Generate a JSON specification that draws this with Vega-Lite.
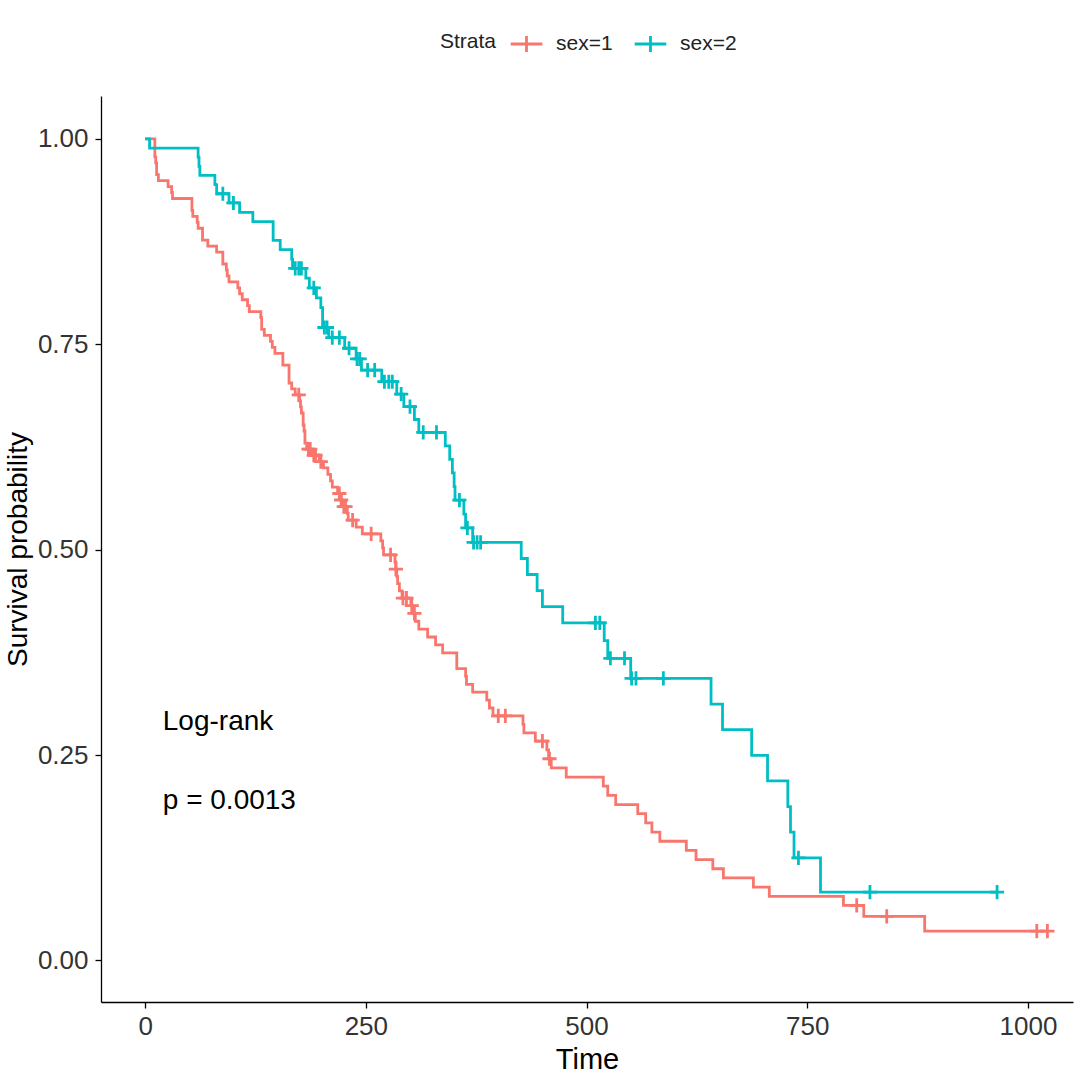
{
  "$schema": "https://vega.github.io/schema/vega-lite/v6.json",
  "autosize": {"type": "none"},
  "width": 972,
  "height": 906,
  "padding": {"left": 101, "top": 96, "right": 7, "bottom": 86},
  "background": "white",
  "config": {
    "view": {"stroke": null},
    "font": "Liberation Sans",
    "axis": {
      "grid": false,
      "domainColor": "black",
      "domainWidth": 1.3,
      "tickColor": "black",
      "tickWidth": 1.3,
      "tickSize": 6,
      "labelFont": "Liberation Sans",
      "labelFontSize": 26,
      "labelColor": "#333333",
      "titleFont": "Liberation Sans",
      "titleFontSize": 29,
      "titleFontWeight": "normal",
      "titleColor": "black"
    }
  },
  "datasets": {
    "curve": [
      {"strata": "sex=1", "time": 0, "surv": 1},
      {"strata": "sex=1", "time": 11, "surv": 0.9783},
      {"strata": "sex=1", "time": 12, "surv": 0.9710},
      {"strata": "sex=1", "time": 13, "surv": 0.9565},
      {"strata": "sex=1", "time": 15, "surv": 0.9493},
      {"strata": "sex=1", "time": 26, "surv": 0.9420},
      {"strata": "sex=1", "time": 30, "surv": 0.9348},
      {"strata": "sex=1", "time": 31, "surv": 0.9275},
      {"strata": "sex=1", "time": 53, "surv": 0.9130},
      {"strata": "sex=1", "time": 54, "surv": 0.9058},
      {"strata": "sex=1", "time": 59, "surv": 0.8986},
      {"strata": "sex=1", "time": 60, "surv": 0.8913},
      {"strata": "sex=1", "time": 65, "surv": 0.8768},
      {"strata": "sex=1", "time": 71, "surv": 0.8696},
      {"strata": "sex=1", "time": 81, "surv": 0.8623},
      {"strata": "sex=1", "time": 88, "surv": 0.8478},
      {"strata": "sex=1", "time": 92, "surv": 0.8406},
      {"strata": "sex=1", "time": 93, "surv": 0.8333},
      {"strata": "sex=1", "time": 95, "surv": 0.8261},
      {"strata": "sex=1", "time": 105, "surv": 0.8188},
      {"strata": "sex=1", "time": 107, "surv": 0.8116},
      {"strata": "sex=1", "time": 110, "surv": 0.8043},
      {"strata": "sex=1", "time": 116, "surv": 0.7971},
      {"strata": "sex=1", "time": 118, "surv": 0.7899},
      {"strata": "sex=1", "time": 131, "surv": 0.7826},
      {"strata": "sex=1", "time": 132, "surv": 0.7681},
      {"strata": "sex=1", "time": 135, "surv": 0.7609},
      {"strata": "sex=1", "time": 142, "surv": 0.7536},
      {"strata": "sex=1", "time": 144, "surv": 0.7464},
      {"strata": "sex=1", "time": 147, "surv": 0.7391},
      {"strata": "sex=1", "time": 156, "surv": 0.7246},
      {"strata": "sex=1", "time": 163, "surv": 0.7029},
      {"strata": "sex=1", "time": 166, "surv": 0.6957},
      {"strata": "sex=1", "time": 170, "surv": 0.6884},
      {"strata": "sex=1", "time": 175, "surv": 0.6811},
      {"strata": "sex=1", "time": 176, "surv": 0.6738},
      {"strata": "sex=1", "time": 177, "surv": 0.6664},
      {"strata": "sex=1", "time": 179, "surv": 0.6518},
      {"strata": "sex=1", "time": 180, "surv": 0.6445},
      {"strata": "sex=1", "time": 181, "surv": 0.6298},
      {"strata": "sex=1", "time": 183, "surv": 0.6225},
      {"strata": "sex=1", "time": 189, "surv": 0.6150},
      {"strata": "sex=1", "time": 197, "surv": 0.6073},
      {"strata": "sex=1", "time": 202, "surv": 0.5995},
      {"strata": "sex=1", "time": 207, "surv": 0.5917},
      {"strata": "sex=1", "time": 210, "surv": 0.5839},
      {"strata": "sex=1", "time": 212, "surv": 0.5762},
      {"strata": "sex=1", "time": 218, "surv": 0.5684},
      {"strata": "sex=1", "time": 222, "surv": 0.5605},
      {"strata": "sex=1", "time": 223, "surv": 0.5525},
      {"strata": "sex=1", "time": 229, "surv": 0.5442},
      {"strata": "sex=1", "time": 230, "surv": 0.5360},
      {"strata": "sex=1", "time": 239, "surv": 0.5276},
      {"strata": "sex=1", "time": 246, "surv": 0.5192},
      {"strata": "sex=1", "time": 267, "surv": 0.5107},
      {"strata": "sex=1", "time": 269, "surv": 0.5022},
      {"strata": "sex=1", "time": 270, "surv": 0.4937},
      {"strata": "sex=1", "time": 283, "surv": 0.4850},
      {"strata": "sex=1", "time": 284, "surv": 0.4764},
      {"strata": "sex=1", "time": 285, "surv": 0.4676},
      {"strata": "sex=1", "time": 286, "surv": 0.4587},
      {"strata": "sex=1", "time": 288, "surv": 0.4499},
      {"strata": "sex=1", "time": 291, "surv": 0.4411},
      {"strata": "sex=1", "time": 301, "surv": 0.4319},
      {"strata": "sex=1", "time": 303, "surv": 0.4225},
      {"strata": "sex=1", "time": 306, "surv": 0.4129},
      {"strata": "sex=1", "time": 310, "surv": 0.4033},
      {"strata": "sex=1", "time": 320, "surv": 0.3937},
      {"strata": "sex=1", "time": 329, "surv": 0.3841},
      {"strata": "sex=1", "time": 337, "surv": 0.3745},
      {"strata": "sex=1", "time": 353, "surv": 0.3553},
      {"strata": "sex=1", "time": 363, "surv": 0.3457},
      {"strata": "sex=1", "time": 364, "surv": 0.3361},
      {"strata": "sex=1", "time": 371, "surv": 0.3265},
      {"strata": "sex=1", "time": 387, "surv": 0.3169},
      {"strata": "sex=1", "time": 390, "surv": 0.3073},
      {"strata": "sex=1", "time": 394, "surv": 0.2977},
      {"strata": "sex=1", "time": 428, "surv": 0.2874},
      {"strata": "sex=1", "time": 429, "surv": 0.2771},
      {"strata": "sex=1", "time": 442, "surv": 0.2669},
      {"strata": "sex=1", "time": 455, "surv": 0.2562},
      {"strata": "sex=1", "time": 457, "surv": 0.2455},
      {"strata": "sex=1", "time": 460, "surv": 0.2344},
      {"strata": "sex=1", "time": 477, "surv": 0.2232},
      {"strata": "sex=1", "time": 519, "surv": 0.2121},
      {"strata": "sex=1", "time": 524, "surv": 0.2009},
      {"strata": "sex=1", "time": 533, "surv": 0.1897},
      {"strata": "sex=1", "time": 558, "surv": 0.1786},
      {"strata": "sex=1", "time": 567, "surv": 0.1674},
      {"strata": "sex=1", "time": 574, "surv": 0.1562},
      {"strata": "sex=1", "time": 583, "surv": 0.1451},
      {"strata": "sex=1", "time": 613, "surv": 0.1339},
      {"strata": "sex=1", "time": 624, "surv": 0.1228},
      {"strata": "sex=1", "time": 643, "surv": 0.1116},
      {"strata": "sex=1", "time": 655, "surv": 0.1004},
      {"strata": "sex=1", "time": 689, "surv": 0.0893},
      {"strata": "sex=1", "time": 707, "surv": 0.0781},
      {"strata": "sex=1", "time": 791, "surv": 0.0670},
      {"strata": "sex=1", "time": 814, "surv": 0.0536},
      {"strata": "sex=1", "time": 883, "surv": 0.0357},
      {"strata": "sex=1", "time": 1022, "surv": 0.0357},
      {"strata": "sex=2", "time": 0, "surv": 1},
      {"strata": "sex=2", "time": 5, "surv": 0.9889},
      {"strata": "sex=2", "time": 60, "surv": 0.9778},
      {"strata": "sex=2", "time": 61, "surv": 0.9667},
      {"strata": "sex=2", "time": 62, "surv": 0.9556},
      {"strata": "sex=2", "time": 79, "surv": 0.9444},
      {"strata": "sex=2", "time": 81, "surv": 0.9333},
      {"strata": "sex=2", "time": 95, "surv": 0.9221},
      {"strata": "sex=2", "time": 107, "surv": 0.9107},
      {"strata": "sex=2", "time": 122, "surv": 0.8993},
      {"strata": "sex=2", "time": 145, "surv": 0.8766},
      {"strata": "sex=2", "time": 153, "surv": 0.8652},
      {"strata": "sex=2", "time": 166, "surv": 0.8538},
      {"strata": "sex=2", "time": 167, "surv": 0.8424},
      {"strata": "sex=2", "time": 182, "surv": 0.8305},
      {"strata": "sex=2", "time": 186, "surv": 0.8187},
      {"strata": "sex=2", "time": 194, "surv": 0.8066},
      {"strata": "sex=2", "time": 199, "surv": 0.7946},
      {"strata": "sex=2", "time": 201, "surv": 0.7705},
      {"strata": "sex=2", "time": 208, "surv": 0.7581},
      {"strata": "sex=2", "time": 226, "surv": 0.7452},
      {"strata": "sex=2", "time": 239, "surv": 0.7322},
      {"strata": "sex=2", "time": 245, "surv": 0.7186},
      {"strata": "sex=2", "time": 268, "surv": 0.7045},
      {"strata": "sex=2", "time": 285, "surv": 0.6895},
      {"strata": "sex=2", "time": 293, "surv": 0.6742},
      {"strata": "sex=2", "time": 305, "surv": 0.6585},
      {"strata": "sex=2", "time": 310, "surv": 0.6428},
      {"strata": "sex=2", "time": 340, "surv": 0.6264},
      {"strata": "sex=2", "time": 345, "surv": 0.6099},
      {"strata": "sex=2", "time": 348, "surv": 0.5934},
      {"strata": "sex=2", "time": 350, "surv": 0.5769},
      {"strata": "sex=2", "time": 351, "surv": 0.5604},
      {"strata": "sex=2", "time": 361, "surv": 0.5434},
      {"strata": "sex=2", "time": 363, "surv": 0.5265},
      {"strata": "sex=2", "time": 371, "surv": 0.5089},
      {"strata": "sex=2", "time": 426, "surv": 0.4893},
      {"strata": "sex=2", "time": 433, "surv": 0.4698},
      {"strata": "sex=2", "time": 444, "surv": 0.4502},
      {"strata": "sex=2", "time": 450, "surv": 0.4306},
      {"strata": "sex=2", "time": 473, "surv": 0.4110},
      {"strata": "sex=2", "time": 520, "surv": 0.3894},
      {"strata": "sex=2", "time": 524, "surv": 0.3678},
      {"strata": "sex=2", "time": 550, "surv": 0.3433},
      {"strata": "sex=2", "time": 641, "surv": 0.3121},
      {"strata": "sex=2", "time": 654, "surv": 0.2809},
      {"strata": "sex=2", "time": 687, "surv": 0.2497},
      {"strata": "sex=2", "time": 705, "surv": 0.2185},
      {"strata": "sex=2", "time": 728, "surv": 0.1873},
      {"strata": "sex=2", "time": 731, "surv": 0.1561},
      {"strata": "sex=2", "time": 735, "surv": 0.1249},
      {"strata": "sex=2", "time": 765, "surv": 0.0832},
      {"strata": "sex=2", "time": 965, "surv": 0.0832}
    ],
    "censor": [
      {"strata": "sex=1", "time": 174, "surv": 0.6884},
      {"strata": "sex=1", "time": 185, "surv": 0.6225},
      {"strata": "sex=1", "time": 187, "surv": 0.6225},
      {"strata": "sex=1", "time": 191, "surv": 0.6150},
      {"strata": "sex=1", "time": 193, "surv": 0.6150},
      {"strata": "sex=1", "time": 199, "surv": 0.6073},
      {"strata": "sex=1", "time": 220, "surv": 0.5684},
      {"strata": "sex=1", "time": 222, "surv": 0.5605},
      {"strata": "sex=1", "time": 225, "surv": 0.5525},
      {"strata": "sex=1", "time": 227, "surv": 0.5525},
      {"strata": "sex=1", "time": 235, "surv": 0.5360},
      {"strata": "sex=1", "time": 256, "surv": 0.5192},
      {"strata": "sex=1", "time": 278, "surv": 0.4937},
      {"strata": "sex=1", "time": 284, "surv": 0.4764},
      {"strata": "sex=1", "time": 292, "surv": 0.4411},
      {"strata": "sex=1", "time": 296, "surv": 0.4411},
      {"strata": "sex=1", "time": 302, "surv": 0.4319},
      {"strata": "sex=1", "time": 305, "surv": 0.4225},
      {"strata": "sex=1", "time": 400, "surv": 0.2977},
      {"strata": "sex=1", "time": 408, "surv": 0.2977},
      {"strata": "sex=1", "time": 450, "surv": 0.2669},
      {"strata": "sex=1", "time": 458, "surv": 0.2455},
      {"strata": "sex=1", "time": 806, "surv": 0.0670},
      {"strata": "sex=1", "time": 840, "surv": 0.0536},
      {"strata": "sex=1", "time": 1010, "surv": 0.0357},
      {"strata": "sex=1", "time": 1022, "surv": 0.0357},
      {"strata": "sex=2", "time": 88, "surv": 0.9333},
      {"strata": "sex=2", "time": 100, "surv": 0.9221},
      {"strata": "sex=2", "time": 170, "surv": 0.8424},
      {"strata": "sex=2", "time": 174, "surv": 0.8424},
      {"strata": "sex=2", "time": 177, "surv": 0.8424},
      {"strata": "sex=2", "time": 191, "surv": 0.8187},
      {"strata": "sex=2", "time": 203, "surv": 0.7705},
      {"strata": "sex=2", "time": 206, "surv": 0.7705},
      {"strata": "sex=2", "time": 212, "surv": 0.7581},
      {"strata": "sex=2", "time": 220, "surv": 0.7581},
      {"strata": "sex=2", "time": 231, "surv": 0.7452},
      {"strata": "sex=2", "time": 240, "surv": 0.7322},
      {"strata": "sex=2", "time": 243, "surv": 0.7322},
      {"strata": "sex=2", "time": 252, "surv": 0.7186},
      {"strata": "sex=2", "time": 260, "surv": 0.7186},
      {"strata": "sex=2", "time": 271, "surv": 0.7045},
      {"strata": "sex=2", "time": 276, "surv": 0.7045},
      {"strata": "sex=2", "time": 280, "surv": 0.7045},
      {"strata": "sex=2", "time": 290, "surv": 0.6895},
      {"strata": "sex=2", "time": 300, "surv": 0.6742},
      {"strata": "sex=2", "time": 315, "surv": 0.6428},
      {"strata": "sex=2", "time": 330, "surv": 0.6428},
      {"strata": "sex=2", "time": 356, "surv": 0.5604},
      {"strata": "sex=2", "time": 365, "surv": 0.5265},
      {"strata": "sex=2", "time": 372, "surv": 0.5089},
      {"strata": "sex=2", "time": 376, "surv": 0.5089},
      {"strata": "sex=2", "time": 380, "surv": 0.5089},
      {"strata": "sex=2", "time": 510, "surv": 0.4110},
      {"strata": "sex=2", "time": 515, "surv": 0.4110},
      {"strata": "sex=2", "time": 527, "surv": 0.3678},
      {"strata": "sex=2", "time": 543, "surv": 0.3678},
      {"strata": "sex=2", "time": 551, "surv": 0.3433},
      {"strata": "sex=2", "time": 556, "surv": 0.3433},
      {"strata": "sex=2", "time": 587, "surv": 0.3433},
      {"strata": "sex=2", "time": 740, "surv": 0.1249},
      {"strata": "sex=2", "time": 821, "surv": 0.0832},
      {"strata": "sex=2", "time": 965, "surv": 0.0832}
    ],
    "notes": [
      {"time": 20, "surv": 0.29, "label": "Log-rank"},
      {"time": 20, "surv": 0.194, "label": "p = 0.0013"}
    ]
  },
  "layer": [
    {
      "data": {"name": "curve"},
      "mark": {"type": "line", "interpolate": "step-after", "strokeWidth": 2.8},
      "encoding": {
        "x": {
          "field": "time", "type": "quantitative",
          "scale": {"domain": [-50, 1051], "nice": false, "zero": false},
          "axis": {"title": "Time", "values": [0, 250, 500, 750, 1000], "format": "d", "labelPadding": 5, "titlePadding": 6}
        },
        "y": {
          "field": "surv", "type": "quantitative",
          "scale": {"domain": [-0.0506, 1.0523], "nice": false, "zero": false},
          "axis": {"title": "Survival probability", "titleFontSize": 28, "values": [0, 0.25, 0.5, 0.75, 1], "format": ".2f", "labelPadding": 7, "titlePadding": 5}
        },
        "color": {
          "field": "strata", "type": "nominal",
          "scale": {"domain": ["sex=1", "sex=2"], "range": ["#F8766D", "#00BFC4"]},
          "legend": {
            "title": "Strata",
            "orient": "none",
            "legendX": 339,
            "legendY": -70,
            "direction": "horizontal",
            "titleOrient": "left",
            "titleBaseline": "middle",
            "titleFontSize": 21,
            "titleFontWeight": "normal",
            "titleColor": "#222222",
            "titleFont": "Liberation Sans",
            "titlePadding": 12,
            "labelFontSize": 21,
            "labelFont": "Liberation Sans",
            "labelColor": "#222222",
            "symbolType": "M-1,0L1,0M0,-0.5L0,0.5",
            "symbolSize": 1000,
            "symbolStrokeWidth": 2.8,
            "columnPadding": 16,
            "labelOffset": 12
          }
        },
        "detail": {"field": "strata"}
      }
    },
    {
      "data": {"name": "censor"},
      "mark": {"type": "point", "shape": "M-1,0L1,0M0,-1L0,1", "filled": false, "size": 200, "strokeWidth": 2.8, "opacity": 1},
      "encoding": {
        "x": {"field": "time", "type": "quantitative"},
        "y": {"field": "surv", "type": "quantitative"},
        "color": {"field": "strata", "type": "nominal"}
      }
    },
    {
      "data": {"name": "notes"},
      "mark": {"type": "text", "align": "left", "baseline": "middle", "fontSize": 28, "font": "Liberation Sans", "color": "black"},
      "encoding": {
        "x": {"field": "time", "type": "quantitative"},
        "y": {"field": "surv", "type": "quantitative"},
        "text": {"field": "label"}
      }
    }
  ]
}
